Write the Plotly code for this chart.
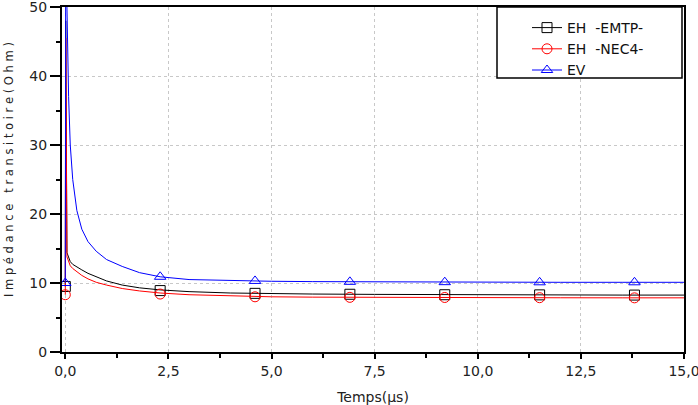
import plotly.graph_objects as go

# ---- data ----
t_line = [0, 0.01, 0.04, 0.08, 0.12, 0.18, 0.28, 0.4, 0.55, 0.75, 1.0, 1.38, 1.8,
          2.3, 3.0, 4.0, 5.0, 6.0, 7.5, 9.0, 10.5, 12.0, 13.5, 15.0]
eh_emtp = [9.5, 48, 14.4, 13.6, 13.1, 12.7, 12.3, 11.9, 11.4, 10.9, 10.3, 9.7, 9.3,
           9.0, 8.75, 8.55, 8.45, 8.4, 8.35, 8.3, 8.3, 8.28, 8.25, 8.25]
eh_nec4 = [8.3, 45.5, 13.8, 13.0, 12.5, 12.1, 11.6, 11.1, 10.6, 10.1, 9.7, 9.2, 8.85,
           8.55, 8.3, 8.1, 8.0, 7.95, 7.9, 7.9, 7.88, 7.86, 7.85, 7.85]
ev = [10.0, 58, 50, 37, 30, 25, 20.5, 17.8, 16.0, 14.6, 13.4, 12.4, 11.5,
      10.9, 10.5, 10.35, 10.25, 10.2, 10.15, 10.12, 10.1, 10.1, 10.1, 10.1]

t_mark = [0, 2.3, 4.6, 6.9, 9.2, 11.5, 13.8]
eh_emtp_mark = [9.5, 8.9, 8.5, 8.37, 8.3, 8.28, 8.25]
eh_nec4_mark = [8.3, 8.4, 8.0, 7.92, 7.9, 7.87, 7.85]
ev_mark = [10.0, 10.9, 10.3, 10.17, 10.12, 10.1, 10.1]

names = ["EH\u00a0\u00a0-EMTP-", "EH\u00a0\u00a0-NEC4-", "EV"]
x_ticks = [0, 2.5, 5, 7.5, 10, 12.5, 15]
x_ticktext = ["0,0", "2,5", "5,0", "7,5", "10,0", "12,5", "15,0"]
y_ticks = [0, 10, 20, 30, 40, 50]

series = [
    (names[0], eh_emtp, eh_emtp_mark, "#000000", "square-open"),
    (names[1], eh_nec4, eh_nec4_mark, "#ff0000", "circle-open"),
    (names[2], ev, ev_mark, "#0000ff", "triangle-up-open"),
]

FONT = "DejaVu Sans"
fig = go.Figure()
for name, yl, ym, col, sym in series:
    fig.add_trace(go.Scatter(x=t_line, y=yl, mode="lines", line=dict(color=col, width=1),
                             showlegend=False, hoverinfo="skip"))
    fig.add_trace(go.Scatter(x=t_mark, y=ym, mode="markers",
                             marker=dict(symbol=sym, size=10, color=col, line=dict(width=1, color=col)),
                             showlegend=False))
    fig.add_trace(go.Scatter(x=[None], y=[None], mode="lines+markers", name=name,
                             line=dict(color=col, width=1),
                             marker=dict(symbol=sym, size=10, color=col, line=dict(width=1, color=col))))

L, R, T, B = 62, 14, 7, 53
W, H = 698, 405
pw, ph = W - L - R, H - T - B

def px_x(p):
    return (p - L) / pw

def px_y(p):
    return 1 - (p - T) / ph

fig.update_layout(
    width=W, height=H,
    margin=dict(l=L, r=R, t=T, b=B, autoexpand=False),
    paper_bgcolor="white", plot_bgcolor="white",
    font=dict(family=FONT, size=14, color="#222222"),
    legend=dict(x=px_x(527), y=px_y(12), xanchor="left", yanchor="top",
                bgcolor="rgba(0,0,0,0)", borderwidth=0, tracegroupgap=0,
                font=dict(family=FONT, size=14, color="#111111")),
    shapes=[dict(type="rect", xref="paper", yref="paper",
                 x0=px_x(497), x1=px_x(682), y0=px_y(78), y1=1,
                 line=dict(color="black", width=1.5), fillcolor="white", layer="above")],
    annotations=[dict(text="I m p é d a n c e   t r a n s i t o i r e ( O h m )",
                      textangle=-90, xref="paper", yref="paper",
                      x=px_x(9), y=px_y(170), xanchor="center", yanchor="middle",
                      showarrow=False, font=dict(family=FONT, size=11.5, color="#222222"))],
)
fig.update_xaxes(
    automargin=False,
    range=[-0.08, 15.0005], tickvals=x_ticks, ticktext=x_ticktext,
    ticklabeloverflow="allow",
    showline=True, linecolor="black", linewidth=2, mirror=True,
    ticks="outside", ticklen=5, tickwidth=1.5, tickcolor="black",
    minor=dict(ticks="outside", ticklen=4, dtick=1.25, tickwidth=1.5, tickcolor="black", showgrid=False),
    showgrid=True, gridcolor="#c8c8c8", gridwidth=1, griddash="dot",
    zeroline=False,
    tickfont=dict(family=FONT, size=14, color="#222222"),
    title=dict(text="Temps(µs)", font=dict(family=FONT, size=14, color="#222222"), standoff=15),
)
fig.update_yaxes(
    automargin=False,
    range=[0, 50.0005], tickvals=y_ticks, tickformat="d",
    ticklabeloverflow="allow",
    showline=True, linecolor="black", linewidth=2, mirror=True,
    ticks="outside", ticklen=10, tickwidth=1.5, tickcolor="black",
    minor=dict(ticks="outside", ticklen=4, dtick=5, tickwidth=1.5, tickcolor="black", showgrid=False),
    showgrid=True, gridcolor="#c8c8c8", gridwidth=1, griddash="dot",
    zeroline=False,
    tickfont=dict(family=FONT, size=14, color="#222222"),
)

fig.write_html("out.html")
